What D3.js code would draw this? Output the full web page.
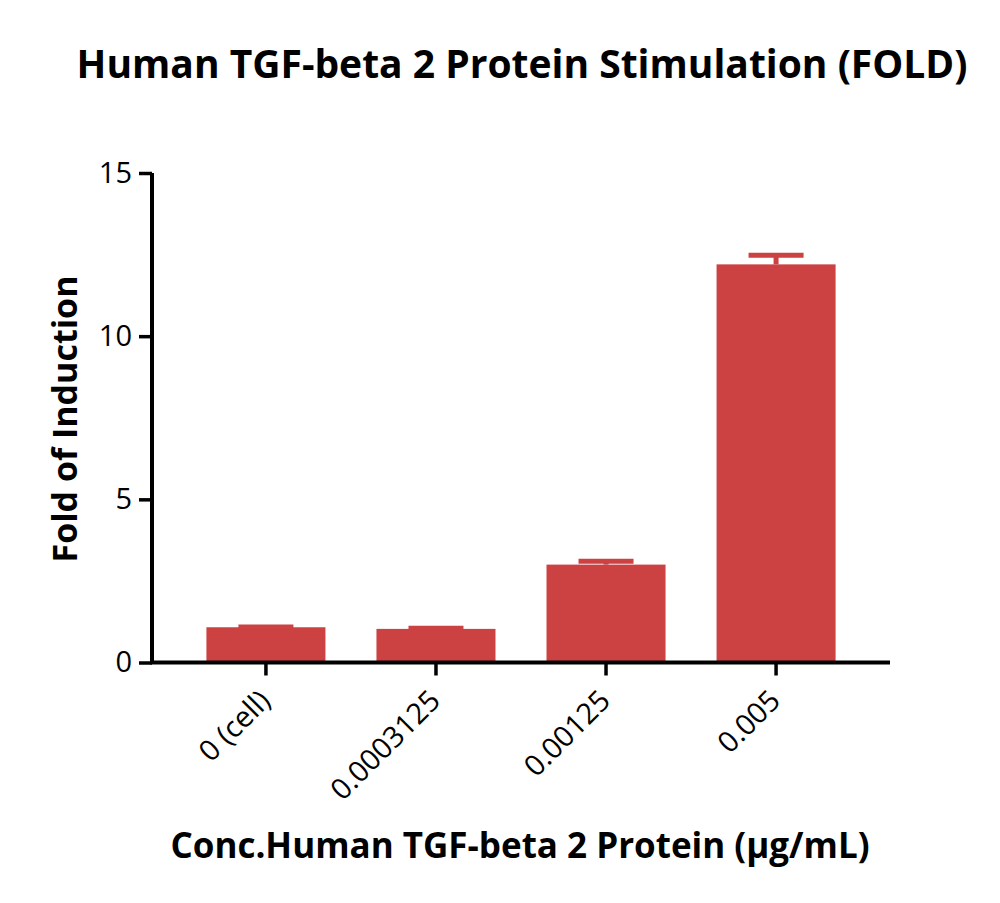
<!DOCTYPE html>
<html>
<head>
<meta charset="utf-8">
<script src="https://cdn.jsdelivr.net/npm/d3@7"></script>
<style>
  html, body { margin: 0; padding: 0; background: #fff; }
  text { font-family: "Open Sans", sans-serif; fill: #000; }
</style>
</head>
<body>
<svg id="chart" width="1000" height="903"></svg>
<script>
const categories = ["0 (cell)", "0.0003125", "0.00125", "0.005"];
const means = [1.08, 1.03, 3.0, 12.2];
const errors = [0.01, 0.02, 0.1, 0.28];
const yTicks = [0, 5, 10, 15];

const barColor = "#cc4142";
const font = "'Open Sans', sans-serif";
const svg = d3.select("#chart");

const x = d3.scaleBand().domain(categories).range([152, 890]).paddingInner(0.3).paddingOuter(0.32);
const y = d3.scaleLinear().domain([0, 15]).range([662.5, 173]);

// bars
svg.append("g").selectAll("rect").data(categories).join("rect")
  .attr("x", d => x(d))
  .attr("width", x.bandwidth())
  .attr("y", (d, i) => y(means[i]))
  .attr("height", (d, i) => y(0) - y(means[i]))
  .attr("fill", barColor);

// error bars (upper only)
const capW = 55;
const eb = svg.append("g").attr("stroke", barColor).attr("stroke-width", 5);
categories.forEach((c, i) => {
  const cx = x(c) + x.bandwidth() / 2;
  eb.append("line").attr("x1", cx).attr("x2", cx).attr("y1", y(means[i])).attr("y2", y(means[i] + errors[i]));
  eb.append("line").attr("x1", cx - capW / 2).attr("x2", cx + capW / 2)
    .attr("y1", y(means[i] + errors[i])).attr("y2", y(means[i] + errors[i]));
});

// y axis
const yAxis = svg.append("g").attr("transform", "translate(152,0)")
  .call(d3.axisLeft(y).tickValues(yTicks).tickSize(13).tickPadding(7).tickFormat(d3.format("d")));
yAxis.select(".domain").attr("d", `M0,${y(15)}V${y(0)}`).attr("stroke-width", 4).attr("stroke", "#000");
yAxis.selectAll(".tick line").attr("stroke-width", 3.5).attr("stroke", "#000");
yAxis.selectAll(".tick text").style("font-size", "29px").style("font-family", font).attr("fill", "#000");

// x axis
const xAxis = svg.append("g").attr("transform", `translate(0,${y(0)})`)
  .call(d3.axisBottom(x).tickSize(13).tickPadding(8).tickSizeOuter(0));
xAxis.select(".domain").attr("d", `M150,0H890`).attr("stroke-width", 4).attr("stroke", "#000");
xAxis.selectAll(".tick line").attr("stroke-width", 3.5).attr("stroke", "#000");
xAxis.selectAll(".tick text")
  .style("font-size", "29px").style("font-family", font).attr("fill", "#000")
  .attr("text-anchor", "end")
  .attr("x", 0).attr("y", 0).attr("dy", "0")
  .attr("transform", "translate(6,40) rotate(-45)");

// title
svg.append("text").attr("x", 522).attr("y", 78).attr("text-anchor", "middle")
  .style("font-size", "39px").style("font-weight", "bold").text("Human TGF-beta 2 Protein Stimulation (FOLD)");

// x label
svg.append("text").attr("x", 520).attr("y", 858).attr("text-anchor", "middle")
  .style("font-size", "35px").style("font-weight", "bold").text("Conc.Human TGF-beta 2 Protein (μg/mL)");

// y label
svg.append("text").attr("transform", "translate(77,419) rotate(-90)").attr("text-anchor", "middle")
  .style("font-size", "34px").style("font-weight", "bold").text("Fold of Induction");
</script>
</body>
</html>
